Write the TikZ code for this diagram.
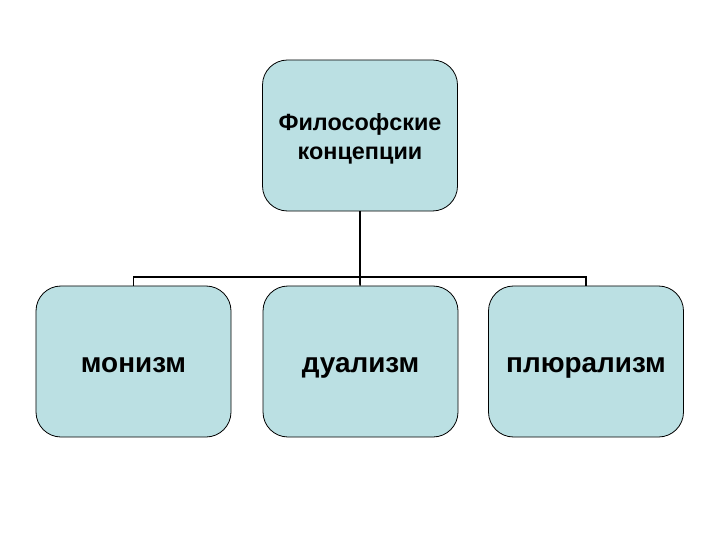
\documentclass[tikz,border=0pt]{standalone}
\usepackage{fontspec}
\setmainfont{Liberation Sans}
\definecolor{boxfill}{RGB}{187,224,227}
\tikzset{concept/.style={draw=black, line width=0.8bp, fill=boxfill, rounded corners=25bp, minimum width=195bp, minimum height=151bp, align=center, text height=22bp, text depth=1bp, font=\bfseries\fontsize{28}{30}\selectfont},
%lines between the boxes
link/.style={line width=1.6bp}}

\begin{document}
\begin{tikzpicture}[x=1bp,y=-1bp]
    \useasboundingbox (0,0) rectangle (720,540);
    \node[concept, text height=52bp, text depth=3bp, font=\bfseries\fontsize{23.5}{30}\selectfont] (top) at (360,135.5) {Философские\\концепции};
    \node[concept] (monism) at (133.5,361.5) {монизм};
    \node[concept] (dualism) at (360.5,361.5) {дуализм};
    \node[concept] (pluralism) at (586,361.5) {плюрализм};
    \coordinate (bus) at (360,277);
    \draw [link, line width=2.8bp] (top) -- (bus);
    \draw [link] (monism.north) |- (bus) -| (pluralism.north);
    \draw [link] (bus) -- (dualism);
\end{tikzpicture}
\end{document}
